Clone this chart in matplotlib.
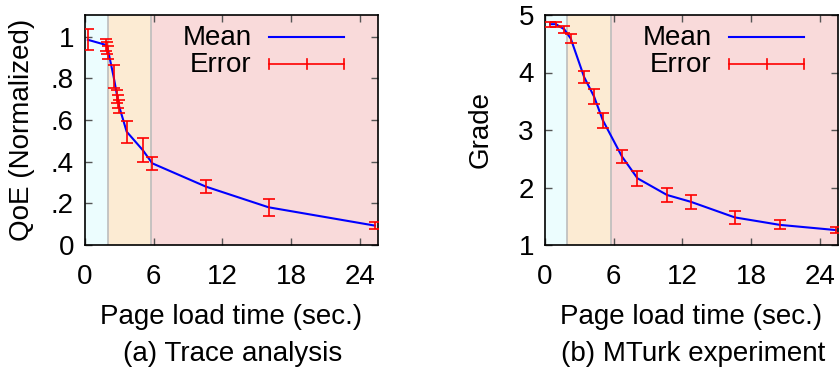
import matplotlib
matplotlib.use("Agg")
import matplotlib.pyplot as plt

plt.rcParams['font.family'] = ['Liberation Sans', 'DejaVu Sans']

# Data (a) Trace analysis
a_x = [0.25, 1.85, 1.95, 2.05, 2.5, 2.82, 2.9, 2.99, 3.64, 5.04, 5.88, 10.57, 16.04, 25.33]
a_y = [0.985, 0.96, 0.945, 0.925, 0.808, 0.712, 0.688, 0.664, 0.544, 0.456, 0.392, 0.28, 0.181, 0.093]
a_err = [0.05, 0.03, 0.03, 0.03, 0.056, 0.03, 0.03, 0.03, 0.052, 0.056, 0.03, 0.03, 0.042, 0.018]
a_bounds = [2.0, 5.8]
a_yticks = [0, 0.2, 0.4, 0.6, 0.8, 1.0]
a_yticklabels = ['0', '.2', '.4', '.6', '.8', '1']

# Data (b) MTurk experiment
b_x = [0.44, 0.96, 1.69, 2.25, 3.42, 4.29, 5.05, 6.72, 8.08, 10.66, 12.76, 16.58, 20.52, 25.4]
b_y = [4.84, 4.84, 4.75, 4.59, 3.92, 3.58, 3.17, 2.54, 2.16, 1.87, 1.75, 1.48, 1.35, 1.26]
b_err = [0.04, 0.04, 0.06, 0.08, 0.1, 0.13, 0.13, 0.12, 0.13, 0.12, 0.12, 0.12, 0.08, 0.05]
b_bounds = [1.9, 5.8]
b_yticks = [1, 2, 3, 4, 5]
b_yticklabels = ['1', '2', '3', '4', '5']

xticks = [0, 6, 12, 18, 24]
xmax = 25.6

W, H = 839, 373
fig = plt.figure(figsize=(W / 100, H / 100), dpi=100)

def px_axes(l, r, t, b):
    return fig.add_axes([l / W, 1 - b / H, (r - l) / W, (b - t) / H])

ax1 = px_axes(85, 378, 15, 245)
ax2 = px_axes(545, 838, 15, 245)

FS = 20
C_BLUE = '#ecfdfe'
C_ORANGE = '#fcebd3'
C_PINK = '#f9dada'

def draw(ax, x, y, err, bounds, ylim, yticks, ylabels, ylabel, ylab_x):
    ax.axvspan(0, bounds[0], color=C_BLUE, lw=0, zorder=0)
    ax.axvspan(bounds[0], bounds[1], color=C_ORANGE, lw=0, zorder=0)
    ax.axvspan(bounds[1], xmax, color=C_PINK, lw=0, zorder=0)
    for bnd in bounds:
        ax.axvline(bnd, color='#bdbdbd', lw=1.2, zorder=1)
    ax.plot(x, y, color='#0000ff', lw=1.5, zorder=3)
    ax.errorbar(x, y, yerr=err, fmt='none', ecolor='#ff0000', elinewidth=1.2,
                capsize=4, capthick=1.2, zorder=4)
    ax.set_xlim(0, xmax)
    ax.set_ylim(*ylim)
    ax.set_xticks(xticks)
    ax.set_yticks(yticks)
    ax.set_yticklabels(ylabels)
    ax.tick_params(direction='in', length=5, width=1, colors='#555555',
                   labelcolor='black', labelsize=FS, top=True, right=True)
    ax.tick_params(axis='x', pad=14)
    ax.tick_params(axis='y', pad=8)
    for s in ax.spines.values():
        s.set_linewidth(1.2)
    ax.set_ylabel(ylabel, fontsize=FS, va='center')
    ax.yaxis.set_label_coords(ylab_x, 0.5)
    # legend (gnuplot style)
    tr = ax.transAxes
    ax.text(0.569, 0.902, 'Mean', transform=tr, ha='right', va='center', fontsize=FS, zorder=5)
    ax.plot([0.628, 0.884], [0.906, 0.906], transform=tr, color='#0000ff', lw=1.5, zorder=5)
    ax.text(0.569, 0.782, 'Error', transform=tr, ha='right', va='center', fontsize=FS, zorder=5)
    ax.plot([0.628, 0.884], [0.786, 0.786], transform=tr, color='#ff0000', lw=1.2, zorder=5)
    for xx in (0.628, 0.756, 0.884):
        ax.plot([xx, xx], [0.786 - 0.022, 0.786 + 0.022], transform=tr, color='#ff0000', lw=1.2, zorder=5)

draw(ax1, a_x, a_y, a_err, a_bounds, (0, 1.104), a_yticks, a_yticklabels, 'QoE (Normalized)', (22 - 85) / 293)
draw(ax2, b_x, b_y, b_err, b_bounds, (1, 5), b_yticks, b_yticklabels, 'Grade', (481 - 545) / 293)

fig.text(231.5 / W, 1 - 317 / H, 'Page load time (sec.)', ha='center', va='center', fontsize=FS)
fig.text(691.5 / W, 1 - 317 / H, 'Page load time (sec.)', ha='center', va='center', fontsize=FS)
fig.text(233 / W, 1 - 354 / H, '(a) Trace analysis', ha='center', va='center', fontsize=FS)
fig.text(693 / W, 1 - 354 / H, '(b) MTurk experiment', ha='center', va='center', fontsize=FS)

fig.savefig('out.png', dpi=100)
